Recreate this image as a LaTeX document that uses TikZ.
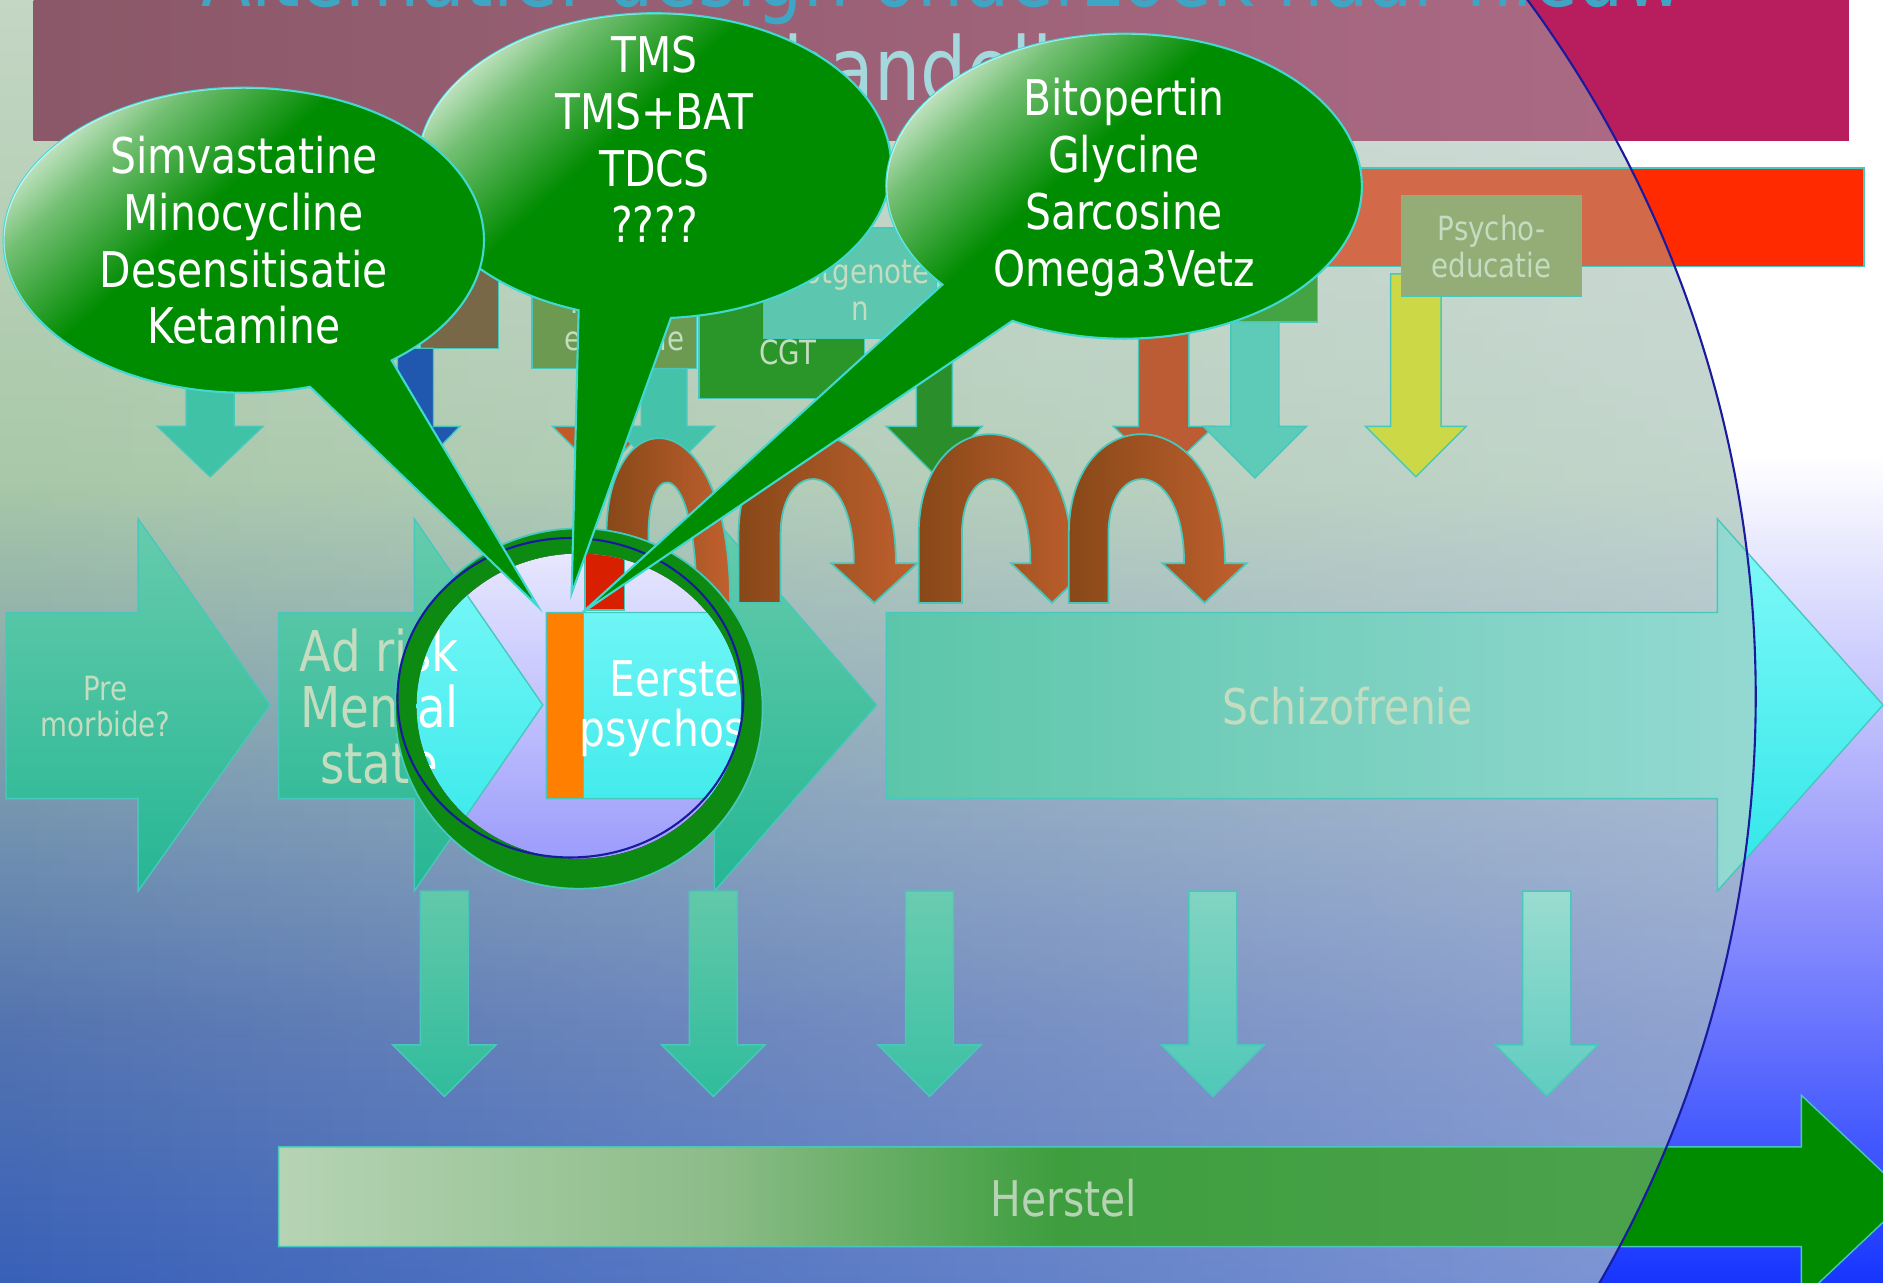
\documentclass[tikz,border=0pt]{standalone}
\usepackage{fontspec}
\setmainfont{DejaVu Sans}[FakeStretch=0.83]
\usetikzlibrary{fadings}

% Colori della diapositiva
\definecolor{bgbot}{HTML}{1636FF}
\definecolor{bgmid}{HTML}{9C9CFC}
\definecolor{inbgA}{HTML}{3860B8}
\definecolor{inbgB}{HTML}{5474B0}
\definecolor{inbgC}{HTML}{7090B0}
\definecolor{inbgD}{HTML}{A8C8A8}
\definecolor{inbgE}{HTML}{C4D6C4}
\definecolor{lavwhite}{HTML}{E8E8FF}
\definecolor{magbar}{HTML}{B81E5E}
\definecolor{titleL}{HTML}{8A5868}
\definecolor{titleR}{HTML}{B06C88}
\definecolor{redvivid}{HTML}{FF2A00}
\definecolor{redfaded}{HTML}{D26A4A}
\definecolor{cyantop}{HTML}{84FAFA}
\definecolor{cyanbot}{HTML}{2EE6E8}
\definecolor{tealtop}{HTML}{66CCAC}
\definecolor{tealbot}{HTML}{26B694}
\definecolor{schizoL}{HTML}{5CC6AA}
\definecolor{schizoR}{HTML}{9CDCD8}
\definecolor{edgecyan}{HTML}{48C8BC}
\definecolor{herstelgreen}{HTML}{008C00}
\definecolor{hA}{HTML}{B6D4B4}
\definecolor{hB}{HTML}{8CBC88}
\definecolor{hC}{HTML}{3E9E3E}
\definecolor{hD}{HTML}{52A452}
\definecolor{fadetext}{HTML}{C4DCC0}
\definecolor{bubgreen}{HTML}{008C00}
\definecolor{bubedge}{HTML}{40D8D0}
\definecolor{ringgreen}{HTML}{0C8A12}
\definecolor{blueline}{HTML}{1A1AA0}
\definecolor{orangebar}{HTML}{FF7F00}
\definecolor{lensred}{HTML}{D82000}
\definecolor{loopdark}{HTML}{884818}
\definecolor{looplight}{HTML}{C0602E}
\definecolor{brownbox}{HTML}{786848}
\definecolor{olivebox}{HTML}{6C9A50}
\definecolor{cgtgreen}{HTML}{2A962A}
\definecolor{tealbox}{HTML}{5CC6AE}
\definecolor{greenbox}{HTML}{44A444}
\definecolor{psybox}{HTML}{94AC76}
\definecolor{tealA}{HTML}{40C2A6}
\definecolor{tealB}{HTML}{44C2AA}
\definecolor{tealC}{HTML}{5ECAB8}
\definecolor{bluearr}{HTML}{2058B0}
\definecolor{orangearr}{HTML}{C05A28}
\definecolor{orangeR}{HTML}{BC5C34}
\definecolor{darkgreen}{HTML}{2A8E2A}
\definecolor{yellowarr}{HTML}{CCD846}
\definecolor{dnAt}{HTML}{62C9AA}
\definecolor{dnAb}{HTML}{30BC9C}
\definecolor{dnBt}{HTML}{6ACCB0}
\definecolor{dnBb}{HTML}{3CC0A4}
\definecolor{dnCt}{HTML}{82D4C2}
\definecolor{dnCb}{HTML}{50C8B8}
\definecolor{dnDt}{HTML}{9ADCD0}
\definecolor{dnDb}{HTML}{60CCC0}
\definecolor{titletext}{HTML}{3EA6C4}
\definecolor{titlepale}{HTML}{A4D8DC}

% Sfumature (25bp = fondo del percorso, 75bp = cima)
\pgfdeclareverticalshading{outbg}{100bp}{color(0bp)=(bgbot); color(25bp)=(bgbot); color(41.5bp)=(bgmid); color(57.2bp)=(white); color(100bp)=(white)}
\pgfdeclareverticalshading{inbg}{100bp}{color(0bp)=(inbgA); color(25bp)=(inbgA); color(35.2bp)=(inbgB); color(42.2bp)=(inbgC); color(56.3bp)=(inbgD); color(75bp)=(inbgE); color(100bp)=(inbgE)}
\pgfdeclarehorizontalshading{herstelfade}{100bp}{color(0bp)=(hA); color(25bp)=(hA); color(38.5bp)=(hB); color(48.9bp)=(hC); color(75bp)=(hD); color(100bp)=(hD)}
\tikzfading[name=fadetoright, left color=transparent!100, right color=transparent!0]
% Riflesso delle nuvolette: solo sul lato in alto a sinistra
\pgfdeclarehorizontalshading{hiliteshade}{100bp}{color(0bp)=(white!75!black); color(25bp)=(white!75!black); color(31bp)=(white!45!black); color(44bp)=(black); color(100bp)=(black)}
\pgfdeclarefading{bubhilite}{\pgfuseshading{hiliteshade}}

% Freccia orizzontale della fase: sinistra, collo, punta, stile
\newcommand\rowarrow[4]{\path[#4] (#1,510) -- (#2,510) -- (#2,432) -- (#3,587) -- (#2,742) -- (#2,665) -- (#1,665) -- cycle;}
% Freccia verso il basso: x, inizio, collo, punta, mezzo fusto, mezza testa, stile
\newcommand\dnarr[7]{\path[#7] (#1-#5,#2) -- (#1+#5,#2) -- (#1+#5,#3) -- (#1+#6,#3) -- (#1,#4) -- (#1-#6,#3) -- (#1-#5,#3) -- cycle;}
% Freccia ad arco: gamba sinistra, gamba destra, punta, mezza testa
\newcommand\curlarr[6]{\path[loopstyle] (#1,502) -- (#1,445) .. controls (#1,330) and (#4,330) .. (#4,469) -- (#5+#6,469) -- (#5,502) -- (#5-#6,469) -- (#3,469) .. controls (#3,380) and (#2,380) .. (#2,445) -- (#2,502) -- cycle;}

\begin{document}
\begin{tikzpicture}[x=0.012009cm, y=-0.012009cm]
\tikzset{
  shapeedge/.style={draw=edgecyan, line width=0.4pt},
  box/.style={shapeedge, fill=#1},
  vivid/.style={shapeedge, top color=cyantop, bottom color=cyanbot},
  faded/.style={shapeedge, top color=tealtop, bottom color=tealbot},
  loopstyle/.style={draw=edgecyan, line width=0.5pt, left color=loopdark, right color=looplight},
  pale/.style={text=fadetext, align=center, inner sep=0pt},
  small/.style={font=\fontsize{9.5}{10.5}\selectfont},
  bubble/.style={fill=bubgreen, draw=bubedge, line width=0.6pt},
  hilite/.style={white, path fading=bubhilite, fading angle=-35},
  bubtext/.style={text=white, align=center, font=\fontsize{14}{16.2}\selectfont}
}
\useasboundingbox (0,0) rectangle (1568,1068);
\clip (0,0) rectangle (1568,1068);

% --- SFONDO ---
\fill[shading=outbg] (0,0) rectangle (1568,1068);

% Parti vive fuori dal cerchio grande
\fill[magbar] (28,-10) rectangle (1540,117);
\path[box=redvivid] (1000,140) rectangle (1552,222);
\rowarrow{738}{1430}{1568}{vivid}
\path[box=herstelgreen] (232,955) -- (1500,955) -- (1500,912) -- (1590,997) -- (1500,1082) -- (1500,1038) -- (232,1038) -- cycle;

% Velatura del cerchio grande
\begin{scope}
  \clip (482,580) circle [radius=980];
  \fill[shading=inbg] (0,0) rectangle (1568,1068);
  \fill[lavwhite, fill opacity=0.45, path fading=fadetoright] (0,0) rectangle (1568,1068);
  \fill[left color=titleL, right color=titleR] (28,-10) rectangle (1540,117);
  \path[box=redfaded] (1000,140) rectangle (1552,222);
  \rowarrow{738}{1430}{1568}{shapeedge, left color=schizoL, right color=schizoR}
  \path[shapeedge, shading=herstelfade] (232,955) -- (1500,955) -- (1500,912) -- (1590,997) -- (1500,1082) -- (1500,1038) -- (232,1038) -- cycle;
\end{scope}

% --- RIQUADRI E FRECCE IN ALTO ---
\path[box=brownbox] (350,225) rectangle (415,290);
\path[box=olivebox] (443,240) rectangle (580,307);
\node[pale, small] (psyA) at (520,266) {Psycho-\\educatie};
\path[box=cgtgreen] (582,250) rectangle (720,332);
\node[pale, small] (cgt) at (656,293) {CGT};
\path[box=tealbox] (636,190) rectangle (780,282);
\node[pale, small] (lotg) at (716,241) {Lotgenote\\n};
\path[box=greenbox] (1000,180) rectangle (1097,268);

\dnarr{175}{320}{355}{397}{20}{44}{box=tealA}
\dnarr{346}{290}{355}{393}{15}{37}{box=bluearr}
\dnarr{500}{307}{355}{395}{15}{40}{box=orangearr}
\dnarr{553}{307}{355}{397}{19}{42}{box=tealB}
\dnarr{778}{280}{355}{395}{15}{40}{box=darkgreen}
\dnarr{969}{268}{355}{395}{21}{42}{box=orangeR}
\dnarr{1045}{268}{355}{398}{20}{43}{box=tealC}
\dnarr{1179}{228}{355}{397}{21}{42}{box=yellowarr}

\path[box=psybox] (1167,163) rectangle (1317,247);
\node[pale, small] (psyB) at (1242,205) {Psycho-\\educatie};

% --- FASI ---
\rowarrow{5}{115}{225}{faded}
\rowarrow{232}{345}{452}{faded}
\rowarrow{455}{595}{730}{faded}
\node[pale, font=\fontsize{9.5}{10.2}\selectfont] (pre) at (88,588) {Pre\\morbide?};
\node[pale, font=\fontsize{16}{15.9}\selectfont] (adrisk) at (316,588) {Ad risk\\Mental\\state};
\node[pale, font=\fontsize{14}{15}\selectfont] (schizo) at (1122,588) {Schizofrenie};

% Frecce verso il recupero
\foreach \xa/\ct/\cb in {370/dnAt/dnAb, 594/dnAt/dnAb, 774/dnBt/dnBb, 1010/dnCt/dnCb, 1288/dnDt/dnDb}{
  \dnarr{\xa}{742}{870}{913}{20}{43}{shapeedge, top color=\ct, bottom color=\cb}
}

\node[pale, text=hA, font=\fontsize{14}{15}\selectfont] (herstel) at (886,998) {Herstel};

% Titolo (in parte fuori dal quadro)
\node[anchor=base, text=titletext, font=\fontsize{25}{26}\selectfont, inner sep=0pt] (titolo) at (785,5) {Alternatief design onderzoek naar nieuw};
\node[anchor=base, text=titlepale, font=\fontsize{25}{26}\selectfont, inner sep=0pt] (titolob) at (765,84) {behandeling};

% Bordo del cerchio grande
\draw[blueline, line width=0.6pt] (482,580) circle [radius=980];

% --- FRECCE AD ARCO (ricadute) ---
\path[loopstyle] (505,502) -- (505,445) .. controls (505,330) and (608,330) .. (608,502) -- (580,502) .. controls (580,380) and (540,380) .. (540,445) -- (540,502) -- cycle;
\curlarr{615}{650}{711}{746}{728}{36}
\curlarr{765}{801}{858}{893}{876}{34}
\curlarr{890}{923}{986}{1020}{1003}{35}

% --- LENTE sulla prima psicosi ---
\fill[ringgreen, draw=edgecyan, line width=0.5pt] (482,590) ellipse [x radius=153, y radius=150];
\begin{scope}
  \clip (482,588) ellipse [x radius=135, y radius=127];
  \fill[shading=outbg] (0,0) rectangle (1568,1068);
  \rowarrow{232}{345}{452}{vivid}
  \rowarrow{455}{595}{730}{vivid}
  \path[box=orangebar] (455,510) rectangle (486,665);
  \path[box=lensred] (487,440) rectangle (520,508);
  \node[text=white, align=center, inner sep=0pt, font=\fontsize{16}{15.9}\selectfont] (adriskL) at (316,588) {Ad risk\\Mental\\state};
  \node[text=white, align=center, inner sep=0pt, font=\fontsize{14}{14.3}\selectfont] (eerste) at (562,590) {Eerste\\psychose};
\end{scope}
\draw[blueline, line width=0.6pt] (475,581) ellipse [x radius=144, y radius=133];

% --- NUVOLETTE ---
\path[bubble] (545,138) ++(86:197 and 127) arc[start angle=86, end angle=-251.3, x radius=197, y radius=127] -- (476,494) -- cycle;
\fill[hilite] (545,138) ellipse [x radius=197, y radius=127];
\node[bubtext] (tms) at (545,116) {TMS\\TMS+BAT\\TDCS\\????};

\path[bubble] (203,200) ++(52:200 and 127) arc[start angle=52, end angle=-286, x radius=200, y radius=127] -- (448,505) -- cycle;
\fill[hilite] (203,200) ellipse [x radius=200, y radius=127];
\node[bubtext] (simva) at (203,200) {Simvastatine\\Minocycline\\Desensitisatie\\Ketamine};

\path[bubble] (936,155) ++(118:198 and 127) arc[start angle=118, end angle=-220.2, x radius=198, y radius=127] -- (485,510) -- cycle;
\fill[hilite] (936,155) ellipse [x radius=198, y radius=127];
\node[bubtext] (bitop) at (936,156) {Bitopertin\\Glycine\\Sarcosine\\Omega3Vetz};

\end{tikzpicture}
\end{document}
